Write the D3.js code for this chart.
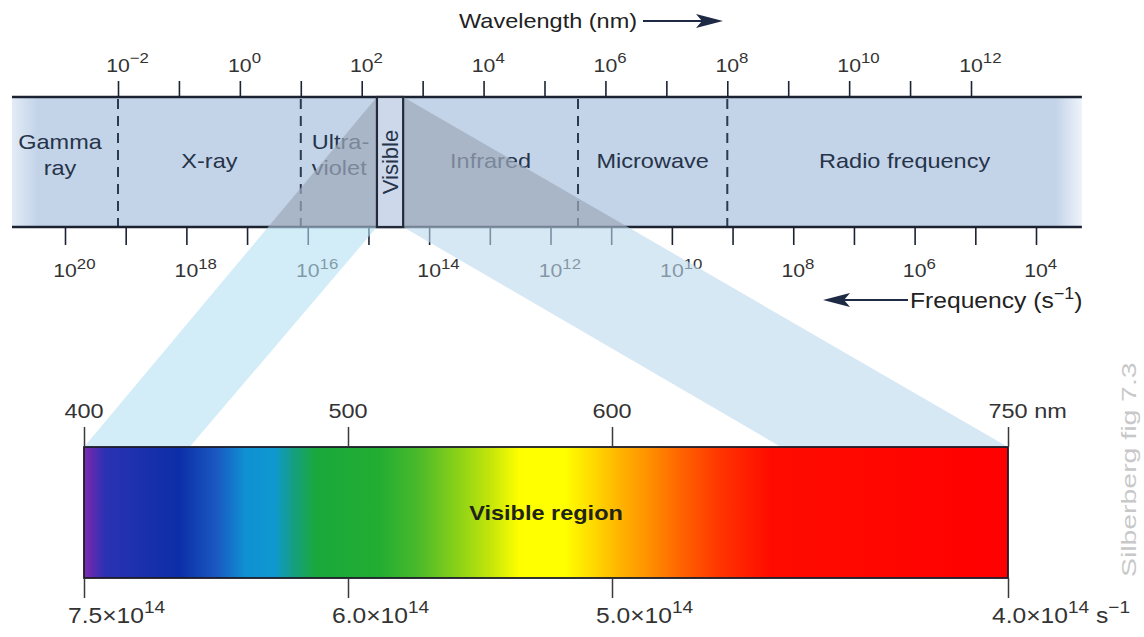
<!DOCTYPE html>
<html><head><meta charset="utf-8">
<script src="https://cdn.jsdelivr.net/npm/d3@7"></script>
<style>
html,body{margin:0;padding:0;background:#fff;}
svg{display:block;}
text{font-family:"Liberation Sans",Arial,Helvetica,sans-serif;}
</style></head><body>
<svg id="chart" width="1144" height="637"></svg>
<script>
// Electromagnetic spectrum (Silberberg fig 7.3).
const TOP_TICKS = [-2,-1,0,1,2,3,4,5,6,7,8,9,10,11,12];          // log10 wavelength, nm
const TOP_LABELS = [-2,0,2,4,6,8,10,12];
const BOTTOM_TICKS = [20,19,18,17,16,15,14,13,12,11,10,9,8,7,6,5,4]; // log10 frequency, s-1
const BOTTOM_LABELS = [20,18,16,14,12,10,8,6,4];
// region edges along the band, log10 wavelength (nm)
const EDGES = [-3.74, -2, 1, 2.25, 2.68, 5.55, 8, 13.82];
const REGIONS = [["Gamma","ray"],["X-ray"],["Ultra-","violet"],["Visible"],["Infrared"],["Microwave"],["Radio frequency"]];
const DASHED = [-2, 1, 5.55, 8];
const VIS_WL = [400, 500, 600, 750];          // nm
const VIS_FREQ = ["7.5", "6.0", "5.0", "4.0"]; // x10^14 s-1
const FAN_INNER = [440, 664];                  // nm, where the inner fan edges reach the bar
const SPECTRUM = [
  [400,"#7f2fb0"],[403,"#5f2ab0"],[408,"#2a32b2"],[436,"#0c2ea8"],[450,"#1a58c0"],
  [461,"#1090d2"],[472,"#0f98d0"],[480,"#15a07a"],[488,"#1aa83c"],[512,"#22ad32"],
  [527,"#4cba2a"],[541,"#88d018"],[554,"#c4e60a"],[565,"#ffff00"],[582,"#ffff00"],
  [592,"#ffdc00"],[603,"#ffb400"],[614,"#ff9000"],[626,"#ff6400"],[641,"#ff3400"],
  [660,"#ff0c00"],[750,"#ff0000"]
];

const BAND_TOP = 97, BAND_BOT = 227, BAR_TOP = 447, BAR_BOT = 578;
const SX = 1.12;   // the figure's type is set a bit wide
const INK = "#26344a", LINE = "#1b2232";

const svg = d3.select("#chart");
const xTop = d3.scaleLog().domain([1e-2, 1e12]).range([118, 971]);
const xBot = d3.scaleLog().domain([1e20, 1e4]).range([65, 1036]);
const xVis = d3.scaleLinear().domain([400, 750]).range([84, 1008]);
const xe = e => xTop(Math.pow(10, e));
const bandL = xe(EDGES[0]), bandR = xe(EDGES[EDGES.length-1]);

const defs = svg.append("defs");
const bg = defs.append("linearGradient").attr("id","band").attr("gradientUnits","userSpaceOnUse")
  .attr("x1", bandL).attr("x2", bandR).attr("y1",0).attr("y2",0);
[[0,"#e2ecf6"],[0.024,"#c3d3e8"],[0.975,"#c3d3e8"],[1,"#eef3fa"]].forEach(([o,c]) =>
  bg.append("stop").attr("offset", o).attr("stop-color", c));
const sg = defs.append("linearGradient").attr("id","spec").attr("gradientUnits","userSpaceOnUse")
  .attr("x1", xVis(400)).attr("x2", xVis(750)).attr("y1",0).attr("y2",0);
SPECTRUM.forEach(([wl,c]) => sg.append("stop")
  .attr("offset", (xVis(wl)-xVis(400))/(xVis(750)-xVis(400))).attr("stop-color", c));

function txt(g, x, y, size, sx){
  return g.append("text").attr("transform", `translate(${x},${y}) scale(${sx||SX},1)`)
    .attr("font-size", size);
}
function powLabel(g, x, y, exp, size, supSize, rise){
  const t = txt(g, x, y, size).attr("x", -0.556*size).attr("fill","#333");
  t.append("tspan").text("10");
  t.append("tspan").attr("font-size", supSize).attr("dy", -rise).text(exp < 0 ? "\u2212" + (-exp) : exp);
}

// ---- band ----
svg.append("rect").attr("x", bandL).attr("y", BAND_TOP).attr("width", bandR-bandL)
  .attr("height", BAND_BOT-BAND_TOP).attr("fill","url(#band)");

REGIONS.forEach((lines, i) => {
  if (lines[0] === "Visible") return;
  const a = xe(EDGES[i]), b = xe(EDGES[i+1]);
  if (lines[0] === "Ultra-") {
    lines.forEach((s, j) => txt(svg, a+11, j ? 175 : 149, 21).attr("fill", INK).text(s));
    return;
  }
  const cx = (a+b)/2 - (i === 0 ? 5 : 0);
  if (lines.length === 2)
    lines.forEach((s, j) => txt(svg, cx, j ? 175 : 149, 21).attr("text-anchor","middle").attr("fill", INK).text(s));
  else
    txt(svg, cx, 168, 21).attr("text-anchor","middle").attr("fill", INK).text(lines[0]);
});

svg.append("g").selectAll("line").data(DASHED).join("line")
  .attr("x1", d => xe(d)).attr("x2", d => xe(d)).attr("y1", BAND_TOP+2).attr("y2", BAND_BOT)
  .attr("stroke", "#2b3a51").attr("stroke-width", 2).attr("stroke-dasharray", "10 7");

[BAND_TOP, BAND_BOT].forEach(y => svg.append("line").attr("x1", bandL).attr("x2", bandR)
  .attr("y1", y).attr("y2", y).attr("stroke", LINE).attr("stroke-width", 2.6));

const topAxis = svg.append("g").attr("transform", `translate(0,${BAND_TOP})`)
  .call(d3.axisTop(xTop).tickValues(TOP_TICKS.map(e => Math.pow(10, e))).tickSize(16).tickFormat(""));
const botAxis = svg.append("g").attr("transform", `translate(0,${BAND_BOT})`)
  .call(d3.axisBottom(xBot).tickValues(BOTTOM_TICKS.map(e => Math.pow(10, e))).tickSize(18).tickFormat(""));
[topAxis, botAxis].forEach(a => {
  a.select(".domain").remove();
  a.selectAll(".tick line").attr("stroke", LINE).attr("stroke-width", 1.6);
});

TOP_LABELS.forEach(e => powLabel(svg, xe(e), 72, e, 19, 15, 9));
BOTTOM_LABELS.forEach(e => powLabel(svg, xBot(Math.pow(10, e)), 277, e, 19, 15, 8));

// ---- projection of the visible slot onto the bar ----
const boxL = xe(EDGES[3]), boxR = xe(EDGES[4]);
const lerp = (x0, y0, x1, y1, y) => x0 + (x1-x0)*(y-y0)/(y1-y0);
const fanL = lerp(boxL, BAND_TOP, xVis(400), BAR_TOP, BAND_BOT);
const fanR = lerp(boxR, BAND_TOP, xVis(750), BAR_TOP, BAND_BOT);
const poly = pts => pts.map(p => p.join(",")).join(" ");

svg.append("polygon").attr("points", poly([[boxL,BAND_TOP],[boxR,BAND_TOP],[fanR,BAND_BOT],[fanL,BAND_BOT]]))
  .attr("fill", "#9ea9ba").attr("opacity", 0.7);
svg.append("polygon").attr("points", poly([[fanL,BAND_BOT],[boxL,BAND_BOT],[xVis(FAN_INNER[0]),BAR_TOP],[xVis(400),BAR_TOP]]))
  .attr("fill", "#b4dff3").attr("opacity", 0.6);
svg.append("polygon").attr("points", poly([[boxR,BAND_BOT],[fanR,BAND_BOT],[xVis(750),BAR_TOP],[xVis(FAN_INNER[1]),BAR_TOP]]))
  .attr("fill", "#bcd8ef").attr("opacity", 0.6);

svg.append("rect").attr("x", boxL).attr("y", BAND_TOP).attr("width", boxR-boxL)
  .attr("height", BAND_BOT-BAND_TOP).attr("fill", "#cdd9eb").attr("stroke", "#232b3b").attr("stroke-width", 2.2);
svg.append("text").attr("transform", `translate(${(boxL+boxR)/2},${(BAND_TOP+BAND_BOT)/2}) rotate(-90)`)
  .attr("text-anchor","middle").attr("dy","0.36em").attr("font-size", 22).attr("fill", INK).text("Visible");

// ---- visible region bar ----
svg.append("rect").attr("x", xVis(400)).attr("y", BAR_TOP).attr("width", xVis(750)-xVis(400))
  .attr("height", BAR_BOT-BAR_TOP).attr("fill","url(#spec)").attr("stroke","#1c1c28").attr("stroke-width", 1.8);
txt(svg, (xVis(400)+xVis(750))/2, 520, 21).attr("text-anchor","middle").attr("font-weight","bold")
  .attr("fill","#1f2418").text("Visible region");

const visTop = svg.append("g").attr("transform", `translate(0,${BAR_TOP})`)
  .call(d3.axisTop(xVis).tickValues(VIS_WL).tickSize(20).tickFormat(""));
const visBot = svg.append("g").attr("transform", `translate(0,${BAR_BOT})`)
  .call(d3.axisBottom(xVis).tickValues(VIS_FREQ.map(f => 3e17/(+f*1e14))).tickSize(20).tickFormat(""));
[visTop, visBot].forEach(a => {
  a.select(".domain").remove();
  a.selectAll(".tick line").attr("stroke", "#3a3a3a").attr("stroke-width", 1.5);
});

VIS_WL.forEach((wl, i) => {
  const last = i === VIS_WL.length-1;
  txt(svg, xVis(wl), 418, 21).attr("x", -0.834*21).attr("fill","#333").text(last ? wl + " nm" : wl);
});
VIS_FREQ.forEach((f, i) => {
  const t = txt(svg, xVis(3e17/(+f*1e14)) - 16, 623, 22).attr("fill","#333");
  t.append("tspan").text(f + "\u00d710");
  t.append("tspan").attr("font-size", 17).attr("dy", -10).text("14");
  if (i === VIS_FREQ.length-1) {
    t.append("tspan").attr("dy", 10).text(" s");
    t.append("tspan").attr("font-size", 17).attr("dy", -10).text("\u22121");
  }
});

// ---- axis titles ----
txt(svg, 459, 28, 21).attr("fill","#222").text("Wavelength (nm)");
svg.append("line").attr("x1", 643).attr("x2", 705).attr("y1", 21).attr("y2", 21)
  .attr("stroke", "#1e2a44").attr("stroke-width", 2);
svg.append("path").attr("d", "M723,21 L696,14 L702,21 L696,28 Z").attr("fill", "#1e2a44");

const ft = txt(svg, 910, 308, 22).attr("fill","#222");
ft.append("tspan").text("Frequency (s");
ft.append("tspan").attr("font-size", 16).attr("dy", -9).text("\u22121");
ft.append("tspan").attr("dy", 9).text(")");
svg.append("line").attr("x1", 842).attr("x2", 908).attr("y1", 300).attr("y2", 300)
  .attr("stroke", "#1e2a44").attr("stroke-width", 2);
svg.append("path").attr("d", "M823,300 L850,293 L844,300 L850,307 Z").attr("fill", "#1e2a44");

svg.append("text").attr("transform", "translate(1136,577) rotate(-90) scale(1.42,1)")
  .attr("font-family", "'DejaVu Serif', serif").attr("font-size", 20).attr("fill", "#c8c8c8")
  .text("Silberberg fig 7.3");
</script>
</body></html>
